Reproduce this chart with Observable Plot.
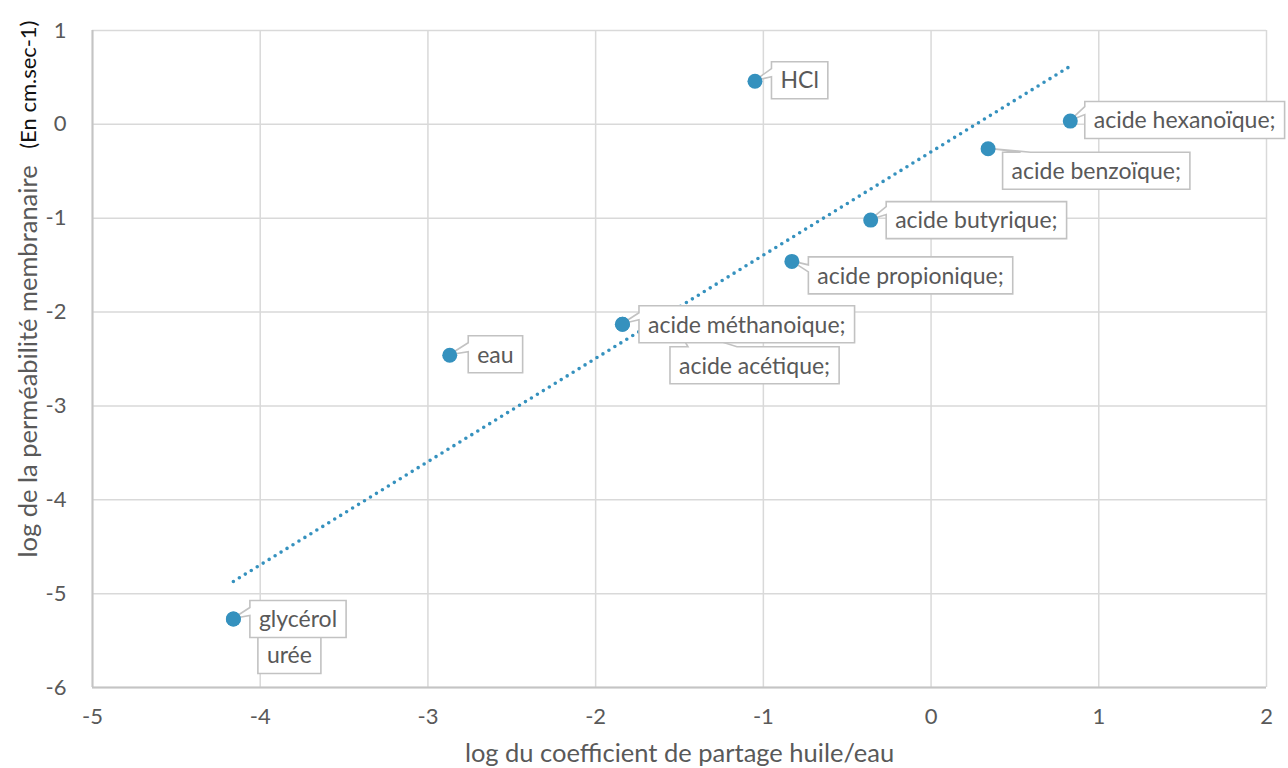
<!DOCTYPE html>
<html><head><meta charset="utf-8">
<script src="https://cdn.jsdelivr.net/npm/d3@7"></script>
<script src="https://cdn.jsdelivr.net/npm/@observablehq/plot@0.6"></script>
<style>
body{margin:0;background:#fff;}
#chart svg{display:block;}
</style></head><body><div id="chart"></div>
<script>
// ---- data ----
const names = ["HCl","acide hexanoïque;","acide benzoïque;","acide butyrique;","acide propionique;","acide méthanoique;","acide acétique;","eau","glycérol","urée"];
const logK = [-1.05, 0.83, 0.34, -0.36, -0.83, -1.84, -1.84, -2.87, -4.16, -4.16];
const logP = [0.46, 0.035, -0.26, -1.02, -1.46, -2.13, -2.13, -2.46, -5.27, -5.27];
const trendX = [-4.16, 0.83];
const trendY = [-4.87, 0.62];
const xTicks = [-5, -4, -3, -2, -1, 0, 1, 2];
const yTicks = [1, 0, -1, -2, -3, -4, -5, -6];
const xTitle = "log du coefficient de partage huile/eau";
const yTitle = "log de la perméabilité membranaire";
const yUnit = "(En cm.sec-1)";

// ---- label callout styling (pixel offsets of the box from its point) ----
const labelStyle = [
  {dx: 17, dy: -19, wedge: "left", a: [7, 15]},
  {dx: 15, dy: -19, wedge: "left", a: [5, 13]},
  {dx: 15, dy: 4, wedge: "top", a: [18, 28]},
  {dx: 16, dy: -18, wedge: "left", a: [5, 13]},
  {dx: 17, dy: -4, wedge: "left", a: [8, 15]},
  {dx: 17, dy: -18, wedge: "left", a: [7, 14]},
  {dx: 48, dy: 23, wedge: "top", a: [18, 67], tip: [55, 4]},
  {dx: 19, dy: -19, wedge: "left", a: [7, 16]},
  {dx: 17, dy: -18, wedge: "left", a: [7, 15]},
  {dx: 25, dy: 18, wedge: null}
];
const drawOrder = [6, 9, 0, 1, 2, 3, 4, 5, 7, 8];

const FONT = "Lato";
const GREY = "#595959";
const BLUE = "#3591be";
const LABEL_SIZE = 23;
const PAD = 9;
const BOX_H = 37;

const points = names.map((n, i) => ({name: n, x: logK[i], y: logP[i]}));
const trend = trendX.map((x, i) => ({x, y: trendY[i]}));

// measuring helper
const mSvg = d3.select("body").append("svg").attr("width", 1).attr("height", 1).style("position", "absolute").style("left", "-500px");
const mText = mSvg.append("text").style("font-family", FONT).style("font-size", LABEL_SIZE + "px");
function textWidth(s) { mText.text(s); const w = mText.node().getComputedTextLength(); mText.text(""); return w; }

function callouts(index, scales) {
  const g = d3.create("svg:g").attr("font-family", FONT).attr("font-size", LABEL_SIZE).attr("text-anchor", "start");
  for (const i of drawOrder) {
    const px = scales.x(logK[i]), py = scales.y(logP[i]);
    const s = labelStyle[i];
    const w = textWidth(names[i]) + 2 * PAD;
    const L = px + s.dx, T = py + s.dy, R = L + w, B = T + BOX_H;
    const tx = px + (s.tip ? s.tip[0] : 0), ty = py + (s.tip ? s.tip[1] : 0);
    let d;
    if (s.wedge === "left") {
      d = `M${L},${T}H${R}V${B}H${L}V${T + s.a[1]}L${tx},${ty}L${L},${T + s.a[0]}Z`;
    } else if (s.wedge === "top") {
      d = `M${L},${T}H${L + s.a[0]}L${tx},${ty}L${L + s.a[1]},${T}H${R}V${B}H${L}Z`;
    } else {
      d = `M${L},${T}H${R}V${B}H${L}Z`;
    }
    g.append("path").attr("d", d).attr("fill", "white").attr("stroke", "#c2c2c2").attr("stroke-width", 1.6).attr("stroke-linejoin", "miter");
    g.append("text").attr("x", L + PAD).attr("y", T + BOX_H / 2).attr("dy", "0.36em").attr("text-anchor", "start").attr("fill", GREY).text(names[i]);
  }
  return g.node();
}

const fmt = d => String(d);

const chart = Plot.plot({
  width: 1288,
  height: 768,
  marginLeft: 92,
  marginRight: 22,
  marginTop: 30,
  marginBottom: 81,
  style: {fontFamily: FONT, fontSize: "22px", color: GREY, background: "white", overflow: "visible"},
  x: {domain: [-5, 2]},
  y: {domain: [-6, 1]},
  marks: [
    Plot.gridX(xTicks, {stroke: "#d9d9d9", strokeOpacity: 1, strokeWidth: 1.5}),
    Plot.gridY(yTicks, {stroke: "#d9d9d9", strokeOpacity: 1, strokeWidth: 1.5}),
    Plot.ruleY([-6], {stroke: "#c4c4c4", strokeWidth: 2}),
    Plot.ruleX([-5], {stroke: "#c4c4c4", strokeWidth: 2}),
    Plot.axisX(xTicks, {tickSize: 0, tickPadding: 21, tickFormat: fmt, label: null, fill: GREY}),
    Plot.axisY(yTicks, {tickSize: 0, tickPadding: 26, tickFormat: fmt, label: null, fill: GREY}),
    Plot.text([xTitle], {frameAnchor: "bottom", dy: 66, fontSize: 25.5, fill: GREY, lineAnchor: "middle"}),
    Plot.text([yTitle], {frameAnchor: "bottom-left", dx: -64, dy: -130, rotate: -90, textAnchor: "start", fontSize: 25.5, fill: GREY, lineAnchor: "middle"}),
    Plot.text([yUnit], {frameAnchor: "top-left", dx: -64, dy: -10, rotate: -90, textAnchor: "end", fontSize: 22, fill: "#111", lineAnchor: "middle"}),
    Plot.line(trend, {x: "x", y: "y", stroke: BLUE, strokeWidth: 3.6, strokeDasharray: "0 7", strokeLinecap: "round"}),
    callouts,
    Plot.dot(points, {x: "x", y: "y", r: 7.5, fill: BLUE, stroke: "none"})
  ]
});
document.getElementById("chart").appendChild(chart);
mSvg.remove();
</script>
</body></html>
